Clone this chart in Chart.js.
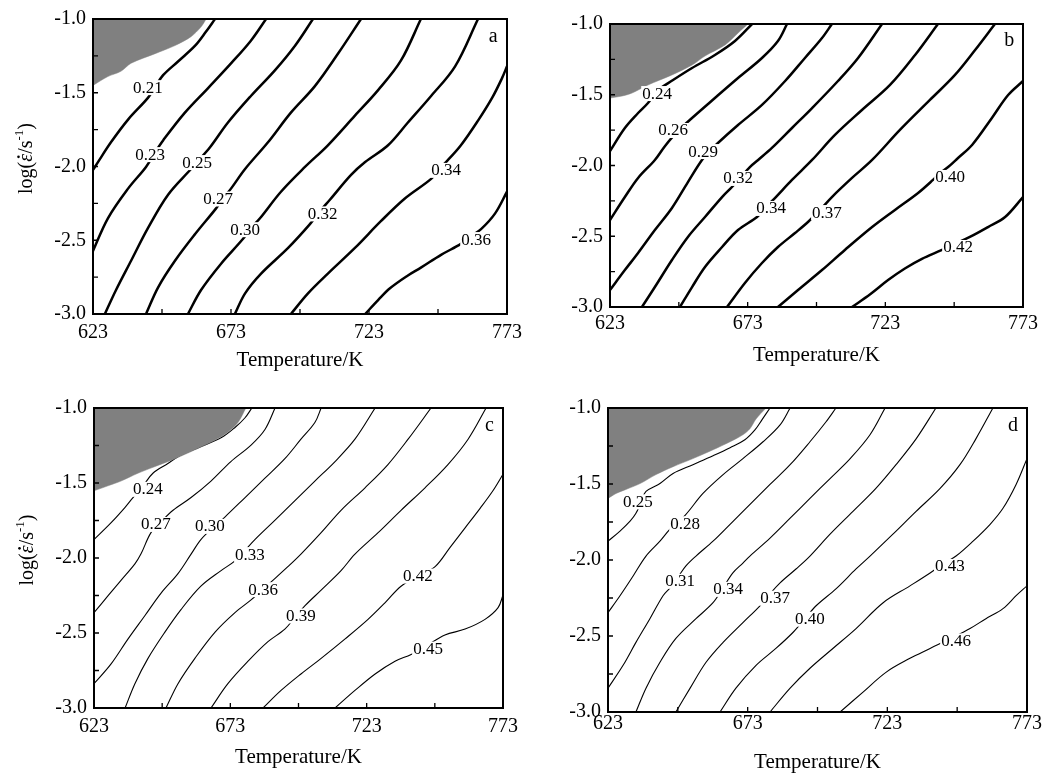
<!DOCTYPE html>
<html>
<head>
<meta charset="utf-8">
<script src="https://cdn.jsdelivr.net/npm/chart.js@4.4.1/dist/chart.umd.min.js"></script>
<style>
  html, body { margin: 0; padding: 0; background: #fff; }
  #wrap { position: relative; width: 1045px; height: 778px; overflow: hidden; }
  canvas { position: absolute; }
</style>
</head>
<body>
<div id="wrap">
  <canvas id="mapA" width="530" height="389" style="left:0;top:0"></canvas>
  <canvas id="mapB" width="523" height="389" style="left:522px;top:0"></canvas>
  <canvas id="mapC" width="530" height="389" style="left:0;top:389px"></canvas>
  <canvas id="mapD" width="523" height="389" style="left:522px;top:389px"></canvas>
</div>
<script>
// ---------------- axes ----------------
const tempTicks = [623, 673, 723, 773];
const rateTicks = [-3.0, -2.5, -2.0, -1.5, -1.0];
const tempMarks = [648, 673, 698, 723, 748];
const rateMarks = [-2.75, -2.5, -2.25, -2.0, -1.75, -1.5, -1.25];
const tagAt = [768, -1.12];
// y title pieces: text, italic?, small raised?
const rateTitle = [['log(', false, false], ['ε', true, false], ['/s', false, false], ['-1', false, true], [')', false, false]];

// ---------------- panel a ----------------
const levelsA = ['0.21', '0.23', '0.25', '0.27', '0.30', '0.32', '0.34', '0.36'];
const labelAtA = [[642.9, -1.462], [643.7, -1.916], [660.7, -1.970], [668.3, -2.217], [678.1, -2.425], [706.2, -2.318], [750.9, -2.023], [761.8, -2.492]];
const greyA = [[623, -1.45], [628.4, -1.39], [633.1, -1.355], [636.8, -1.30], [645.5, -1.235], [652.7, -1.18], [658.5, -1.12], [662.1, -1.055], [664, -1.0]];
const contoursA = [
  [[623, -2.023], [624.8, -1.970], [629.5, -1.836], [635.7, -1.682], [642.9, -1.535], [645.5, -1.462], [648.4, -1.381], [653.8, -1.288], [660, -1.181], [663.9, -1.087], [667.2, -1.0]],
  [[623, -2.572], [628.4, -2.351], [635.7, -2.150], [642.2, -2.003], [645.5, -1.903], [648.4, -1.823], [656.3, -1.635], [664.7, -1.468], [673, -1.301], [680.2, -1.147], [685.7, -1.0]],
  [[627.3, -3.0], [631.3, -2.839], [636.8, -2.639], [642.9, -2.418], [650.2, -2.191], [658.5, -2.017], [660.7, -1.970], [665.4, -1.870], [671.9, -1.702], [680.2, -1.522], [688.9, -1.348], [696.2, -1.181], [702.7, -1.0]],
  [[642.2, -3.0], [646.6, -2.819], [652.7, -2.639], [660, -2.458], [667.6, -2.284], [670.1, -2.217], [673, -2.150], [678.1, -2.017], [686.4, -1.836], [694.7, -1.635], [703.4, -1.455], [711.8, -1.234], [720.1, -1.0]],
  [[657.4, -3.0], [662.1, -2.839], [669.4, -2.659], [677.3, -2.492], [679.9, -2.425], [683.5, -2.351], [691.1, -2.171], [699.8, -2.003], [708.1, -1.856], [717.9, -1.655], [726.3, -1.482], [734.6, -1.281], [741.8, -1.0]],
  [[674.4, -3.0], [678.1, -2.860], [683.9, -2.726], [693.7, -2.552], [701.6, -2.391], [705.2, -2.304], [708.9, -2.224], [716.5, -2.057], [721.6, -1.970], [729.9, -1.856], [737.1, -1.702], [745.5, -1.522], [754.2, -1.321], [762.5, -1.0]],
  [[694.7, -3.0], [700.9, -2.860], [708.1, -2.726], [717.9, -2.552], [727.3, -2.371], [736.0, -2.217], [745.5, -2.084], [748, -2.023], [750.9, -1.970], [756.3, -1.856], [762.5, -1.689], [767.6, -1.535], [771.2, -1.401], [773, -1.321]],
  [[721.6, -3.0], [726.3, -2.906], [730.6, -2.826], [737.1, -2.739], [741.8, -2.686], [749.1, -2.599], [756.3, -2.525], [759.6, -2.478], [763.6, -2.425], [768.7, -2.318], [773, -2.171]]
];

// ---------------- panel b ----------------
const levelsB = ['0.24', '0.26', '0.29', '0.32', '0.34', '0.37', '0.40', '0.42'];
const labelAtB = [[640.1, -1.488], [645.9, -1.749], [656.8, -1.898], [669.5, -2.088], [681.5, -2.300], [701.8, -2.329], [746.5, -2.081], [749.4, -2.576]];
const greyB = [[623, -1.523], [627.4, -1.509], [631.0, -1.488], [636.8, -1.431], [645.5, -1.360], [652.8, -1.290], [657.5, -1.226], [664.8, -1.148], [669.5, -1.064], [673.1, -1.0]];
const contoursB = [
  [[623, -1.898], [628.4, -1.735], [633.2, -1.629], [636.8, -1.558], [640.1, -1.473], [645.9, -1.396], [652.8, -1.311], [661.1, -1.219], [668.4, -1.120], [674.6, -1.0]],
  [[623, -2.385], [628.4, -2.223], [633.2, -2.088], [639.3, -1.961], [643.0, -1.862], [647.7, -1.756], [652.8, -1.664], [661.1, -1.523], [669.5, -1.382], [678.2, -1.240], [684.0, -1.120], [687.3, -1.0]],
  [[623, -2.880], [628.4, -2.739], [633.2, -2.618], [639.3, -2.456], [645.5, -2.300], [651.3, -2.117], [656.4, -1.961], [659.3, -1.898], [662.2, -1.841], [669.5, -1.714], [678.2, -1.572], [686.6, -1.403], [693.8, -1.240], [700.0, -1.099], [703.6, -1.0]],
  [[634.6, -3.0], [639.3, -2.859], [645.5, -2.668], [651.3, -2.505], [657.5, -2.364], [663.7, -2.223], [667.3, -2.152], [670.6, -2.081], [673.8, -2.011], [676.8, -1.961], [681.8, -1.876], [689.1, -1.735], [696.4, -1.594], [705.8, -1.403], [713.1, -1.240], [721.8, -1.0]],
  [[648.4, -3.0], [652.8, -2.859], [657.5, -2.717], [663.7, -2.576], [669.5, -2.456], [676.4, -2.364], [679.7, -2.293], [682.9, -2.230], [689.1, -2.102], [696.4, -1.961], [704.7, -1.784], [714.5, -1.608], [724.7, -1.431], [733.8, -1.219], [742.1, -1.0]],
  [[665.5, -3.0], [672.0, -2.830], [678.2, -2.689], [684.0, -2.576], [690.2, -2.477], [694.9, -2.399], [699.3, -2.314], [703.6, -2.223], [710.9, -2.088], [718.2, -1.961], [728.3, -1.749], [739.2, -1.537], [748.3, -1.360], [755.6, -1.184], [762.8, -1.0]],
  [[684.0, -3.0], [691.3, -2.880], [700.0, -2.739], [708.3, -2.597], [718.2, -2.435], [726.5, -2.314], [734.9, -2.194], [740.3, -2.102], [742.9, -2.053], [745.8, -2.011], [749.4, -1.947], [754.5, -1.855], [761.7, -1.664], [767.6, -1.502], [773, -1.403]],
  [[710.9, -3.0], [717.5, -2.910], [724.0, -2.810], [730.1, -2.728], [736.3, -2.660], [743.6, -2.597], [748.3, -2.552], [753.7, -2.505], [760.3, -2.435], [766.5, -2.364], [773, -2.223]]
];

// ---------------- panel c ----------------
const levelsC = ['0.24', '0.27', '0.30', '0.33', '0.36', '0.39', '0.42', '0.45'];
const labelAtC = [[642.8, -1.539], [645.7, -1.773], [665.5, -1.786], [680.2, -1.974], [685.0, -2.208], [698.9, -2.383], [741.8, -2.117], [745.5, -2.604]];
const greyC = [[623, -1.552], [628.1, -1.519], [632.9, -1.487], [639.1, -1.435], [645.4, -1.390], [652.7, -1.338], [660.0, -1.279], [667.4, -1.214], [672.1, -1.162], [675.8, -1.097], [678.7, -1.0]];
const contoursC = [
  [[623, -1.877], [629.2, -1.766], [634.4, -1.662], [637.3, -1.597], [641.0, -1.519], [644.6, -1.435], [650.1, -1.370], [653.8, -1.325], [661.9, -1.260], [669.9, -1.195], [674.7, -1.130], [678.4, -1.065], [680.9, -1.0]],
  [[623, -2.364], [628.1, -2.253], [632.9, -2.149], [638.0, -2.039], [640.2, -1.974], [643.9, -1.831], [647.9, -1.753], [652.0, -1.682], [658.6, -1.597], [665.9, -1.487], [673.2, -1.357], [680.6, -1.247], [685.7, -1.143], [689.4, -1.0]],
  [[623, -2.838], [629.2, -2.708], [635.5, -2.539], [641.7, -2.383], [647.6, -2.234], [653.8, -2.104], [658.6, -1.974], [662.2, -1.877], [666.6, -1.799], [671.0, -1.727], [678.4, -1.597], [685.7, -1.468], [693.0, -1.338], [698.9, -1.208], [704.0, -1.097], [706.3, -1.0]],
  [[634.4, -3.0], [638.0, -2.838], [642.8, -2.669], [649.0, -2.494], [654.9, -2.344], [662.2, -2.188], [669.6, -2.084], [674.7, -2.019], [678.4, -1.948], [682.0, -1.877], [689.4, -1.747], [696.7, -1.617], [704.0, -1.487], [711.4, -1.357], [718.7, -1.208], [726.1, -1.0]],
  [[649.4, -3.0], [653.8, -2.838], [660.0, -2.669], [667.4, -2.494], [674.7, -2.364], [680.6, -2.279], [684.6, -2.214], [688.6, -2.149], [694.1, -2.058], [698.9, -1.974], [706.3, -1.831], [713.6, -1.682], [722.4, -1.532], [730.8, -1.377], [738.2, -1.208], [746.6, -1.0]],
  [[665.9, -3.0], [672.1, -2.838], [679.5, -2.688], [686.8, -2.558], [693.0, -2.474], [696.7, -2.396], [700.4, -2.318], [706.3, -2.214], [713.6, -2.084], [718.7, -1.974], [727.2, -1.831], [735.6, -1.682], [744.4, -1.532], [752.8, -1.377], [760.2, -1.208], [766.8, -1.0]],
  [[685.0, -3.0], [691.6, -2.883], [698.9, -2.773], [706.3, -2.669], [715.1, -2.539], [723.5, -2.409], [729.7, -2.299], [735.6, -2.188], [741.8, -2.123], [748.1, -2.058], [753.6, -1.929], [759.1, -1.799], [764.6, -1.669], [769.3, -1.552], [773, -1.442]],
  [[711.4, -3.0], [718.7, -2.883], [726.1, -2.773], [733.4, -2.688], [739.3, -2.643], [745.5, -2.578], [751.7, -2.513], [759.1, -2.474], [766.4, -2.409], [771.2, -2.331], [773, -2.247]]
];

// ---------------- panel d ----------------
const levelsD = ['0.25', '0.28', '0.31', '0.34', '0.37', '0.40', '0.43', '0.46'];
const labelAtD = [[633.7, -1.614], [650.6, -1.758], [648.8, -2.137], [666.0, -2.190], [682.8, -2.248], [695.3, -2.386], [745.4, -2.039], [747.6, -2.529]];
const greyD = [[623, -1.595], [625.9, -1.562], [629.4, -1.536], [634.5, -1.497], [640.2, -1.438], [646.3, -1.386], [653.4, -1.333], [660.6, -1.275], [666.7, -1.222], [671.3, -1.176], [673.8, -1.137], [676.0, -1.072], [679.6, -1.0]];
const contoursD = [
  [[623, -1.876], [627.3, -1.810], [630.9, -1.745], [633.0, -1.693], [634.8, -1.621], [636.6, -1.549], [641.6, -1.497], [646.3, -1.431], [653.4, -1.373], [660.6, -1.314], [666.7, -1.261], [672.0, -1.209], [675.6, -1.144], [678.1, -1.078], [681.0, -1.0]],
  [[623, -2.346], [627.3, -2.235], [632.0, -2.105], [636.6, -1.974], [641.6, -1.876], [645.2, -1.797], [650.6, -1.706], [657.0, -1.562], [664.2, -1.438], [671.3, -1.333], [678.5, -1.222], [684.6, -1.111], [688.2, -1.0]],
  [[623, -2.843], [628.4, -2.693], [633.0, -2.542], [638.0, -2.386], [642.7, -2.235], [645.2, -2.183], [648.1, -2.111], [650.9, -2.039], [654.5, -1.974], [660.6, -1.876], [666.7, -1.765], [672.4, -1.660], [681.0, -1.503], [688.2, -1.373], [695.3, -1.222], [701.0, -1.092], [704.6, -1.0]],
  [[633.0, -3.0], [636.6, -2.843], [641.6, -2.673], [647.3, -2.516], [654.5, -2.386], [660.6, -2.281], [664.2, -2.183], [667.7, -2.085], [671.3, -2.020], [673.8, -1.974], [681.0, -1.856], [688.2, -1.725], [695.3, -1.595], [702.5, -1.464], [709.7, -1.333], [716.8, -1.176], [722.2, -1.0]],
  [[647.3, -3.0], [652.4, -2.843], [658.1, -2.673], [664.2, -2.542], [671.3, -2.412], [677.4, -2.301], [681.0, -2.222], [684.6, -2.150], [690.3, -2.059], [695.3, -1.974], [702.5, -1.830], [710.7, -1.680], [718.9, -1.529], [726.1, -1.373], [733.3, -1.203], [740.4, -1.0]],
  [[663.1, -3.0], [668.8, -2.843], [676.0, -2.693], [683.1, -2.582], [689.2, -2.477], [693.5, -2.386], [697.5, -2.301], [704.6, -2.190], [711.8, -2.059], [716.8, -1.974], [725.0, -1.830], [733.3, -1.680], [741.9, -1.529], [749.0, -1.373], [754.7, -1.203], [760.8, -1.0]],
  [[681.0, -3.0], [688.2, -2.843], [695.3, -2.712], [703.5, -2.582], [711.8, -2.451], [721.5, -2.281], [731.1, -2.170], [738.3, -2.085], [742.9, -2.026], [747.6, -1.974], [753.7, -1.876], [759.8, -1.765], [764.4, -1.660], [769.1, -1.503], [773, -1.333]],
  [[706.1, -3.0], [714.3, -2.869], [722.5, -2.739], [731.1, -2.647], [738.3, -2.582], [741.9, -2.549], [747.2, -2.503], [752.6, -2.451], [758.3, -2.386], [764.4, -2.320], [769.1, -2.235], [773, -2.170]]
];

// ---------------- drawing ----------------
const serif = '"Liberation Serif", "Times New Roman", serif';
Chart.defaults.font.family = serif;
Chart.defaults.color = '#000';

const toPts = arr => arr.map(p => ({x: p[0], y: p[1]}));

function drawRateTitle(ctx, cx, cy) {
  const big = 20, small = 13;
  const fontOf = p => (p[1] ? 'italic ' : '') + (p[2] ? small : big) + 'px ' + serif;
  ctx.save();
  ctx.translate(cx, cy);
  ctx.rotate(-Math.PI / 2);
  ctx.textBaseline = 'alphabetic';
  ctx.textAlign = 'left';
  let total = 0;
  rateTitle.forEach(p => { ctx.font = fontOf(p); total += ctx.measureText(p[0]).width; });
  let pos = -total / 2;
  const base = 7;
  rateTitle.forEach(p => {
    ctx.font = fontOf(p);
    const w = ctx.measureText(p[0]).width;
    ctx.fillText(p[0], pos, p[2] ? base - 9 : base);
    if (p[1]) {
      // dot over the strain rate symbol
      ctx.beginPath();
      ctx.arc(pos + w * 0.62, base - 13.5, 1.3, 0, Math.PI * 2);
      ctx.fill();
    }
    pos += w;
  });
  ctx.restore();
}

function makeDecor(set) {
  return {
    id: 'decor' + set.tag,
    afterDatasetsDraw(chart) {
      const {ctx, chartArea: a, scales: {x, y}} = chart;
      ctx.save();
      // contour labels on a white patch, like the line gaps of the original
      ctx.font = '17px ' + serif;
      ctx.textAlign = 'center';
      ctx.textBaseline = 'middle';
      set.levels.forEach((lv, i) => {
        const px = x.getPixelForValue(set.labelAt[i][0]);
        const py = y.getPixelForValue(set.labelAt[i][1]);
        const w = ctx.measureText(lv).width + 2;
        ctx.fillStyle = '#fff';
        ctx.fillRect(px - w / 2, py - 7, w, 15);
        ctx.fillStyle = '#000';
        ctx.fillText(lv, px, py + 1);
      });
      ctx.font = '20px ' + serif;
      ctx.fillText(set.tag, x.getPixelForValue(tagAt[0]), y.getPixelForValue(tagAt[1]));
      // frame
      ctx.strokeStyle = '#000';
      ctx.lineWidth = 2;
      ctx.strokeRect(a.left, a.top, a.right - a.left, a.bottom - a.top);
      // inward ticks
      ctx.lineWidth = 1.3;
      ctx.beginPath();
      tempMarks.forEach(v => {
        const px = x.getPixelForValue(v);
        ctx.moveTo(px, a.bottom);
        ctx.lineTo(px, a.bottom - 5);
      });
      rateMarks.forEach(v => {
        const py = y.getPixelForValue(v);
        ctx.moveTo(a.left, py);
        ctx.lineTo(a.left + 5, py);
      });
      ctx.stroke();
      ctx.restore();
      if (set.yTitle) {
        ctx.save();
        ctx.fillStyle = '#000';
        drawRateTitle(ctx, a.left - 68, (a.top + a.bottom) / 2 - 8);
        ctx.restore();
      }
    }
  };
}

function drawMap(id, set) {
  const datasets = [{
    data: toPts(set.grey),
    showLine: true,
    fill: 'end',
    backgroundColor: '#808080',
    borderColor: '#808080',
    borderWidth: 0.5,
    pointRadius: 0,
    tension: 0.3
  }];
  set.contours.forEach(line => datasets.push({
    data: toPts(line),
    showLine: true,
    fill: false,
    borderColor: '#000',
    borderWidth: set.lineWidth,
    pointRadius: 0,
    tension: 0.35
  }));

  new Chart(document.getElementById(id), {
    type: 'scatter',
    data: {datasets: datasets},
    options: {
      responsive: false,
      animation: false,
      devicePixelRatio: 1,
      layout: {padding: set.pad},
      plugins: {legend: {display: false}, tooltip: {enabled: false}},
      scales: {
        x: {
          type: 'linear', min: 623, max: 773,
          afterBuildTicks: s => { s.ticks = tempTicks.map(v => ({value: v})); },
          afterFit: s => { s.height = set.xAxisH; },
          grid: {display: false, drawTicks: false},
          border: {display: false},
          ticks: {font: {size: 20}, padding: set.xTickPad, autoSkip: false, maxRotation: 0, callback: v => String(v)},
          title: {display: true, text: 'Temperature/K', font: {size: 21}, padding: {top: 0, bottom: set.xTitlePad}}
        },
        y: {
          type: 'linear', min: -3, max: -1,
          afterBuildTicks: s => { s.ticks = rateTicks.map(v => ({value: v})); },
          afterFit: s => { s.width = set.yAxisW; },
          grid: {display: false, drawTicks: false},
          border: {display: false},
          ticks: {font: {size: 20}, padding: 7, autoSkip: false, callback: v => v.toFixed(1)},
          title: {display: false}
        }
      }
    },
    plugins: [makeDecor(set)]
  });
}

drawMap('mapA', {
  tag: 'a', levels: levelsA, labelAt: labelAtA, grey: greyA, contours: contoursA,
  lineWidth: 2.5, yTitle: true, yAxisW: 93, xAxisH: 75, xTickPad: 7, xTitlePad: 16,
  pad: {left: 0, right: 23, top: 15, bottom: 0}
});
drawMap('mapB', {
  tag: 'b', levels: levelsB, labelAt: labelAtB, grey: greyB, contours: contoursB,
  lineWidth: 2.5, yTitle: false, yAxisW: 88, xAxisH: 82, xTickPad: 5, xTitlePad: 21,
  pad: {left: 0, right: 22, top: 24, bottom: 0}
});
drawMap('mapC', {
  tag: 'c', levels: levelsC, labelAt: labelAtC, grey: greyC, contours: contoursC,
  lineWidth: 1.1, yTitle: true, yAxisW: 94, xAxisH: 70, xTickPad: 7, xTitlePad: 8,
  pad: {left: 0, right: 27, top: 11, bottom: 0}
});
drawMap('mapD', {
  tag: 'd', levels: levelsD, labelAt: labelAtD, grey: greyD, contours: contoursD,
  lineWidth: 1.1, yTitle: false, yAxisW: 86, xAxisH: 66, xTickPad: 0, xTitlePad: 3,
  pad: {left: 0, right: 18, top: 17, bottom: 0}
});
</script>
</body>
</html>
